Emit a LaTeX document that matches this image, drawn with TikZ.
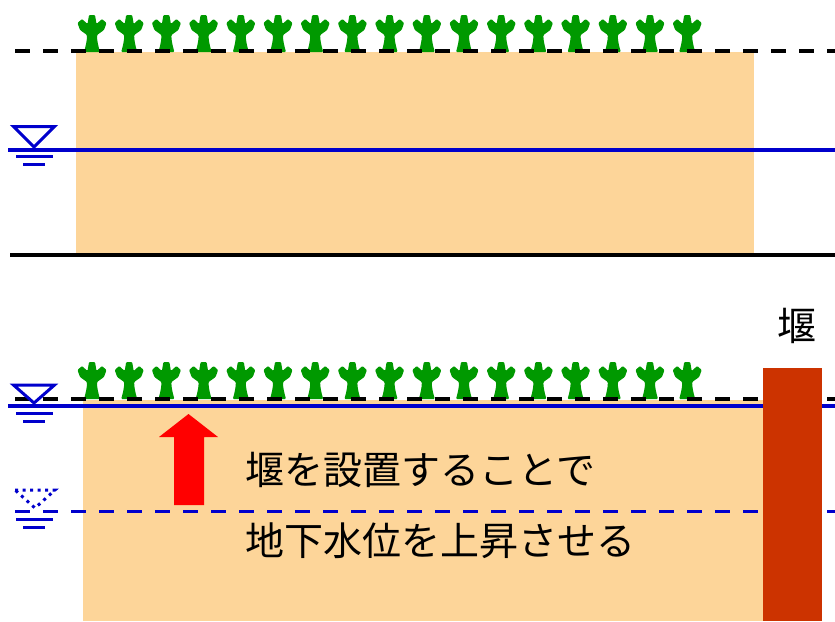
\documentclass[tikz,border=0pt]{standalone}
\usepackage{fontspec}
\newfontfamily\jpfont{Noto Sans CJK JP}
\definecolor{soil}{RGB}{253,213,153}
\definecolor{leaf}{RGB}{0,153,0}
\definecolor{wblue}{RGB}{0,0,204}
\definecolor{weir}{RGB}{204,51,0}

\tikzset{
  leek/.pic={
    \fill[leaf, rounded corners=1pt] (-8,0) .. controls (-6,-7) and (-5,-12) .. (-5,-17)
      -- (-12,-22) -- (-14.5,-29) -- (-10,-33) -- (-4.5,-28) -- (-3,-37) -- (3,-37)
      -- (4.5,-28) -- (10,-33) -- (14.5,-29) -- (12,-22) -- (5,-17)
      .. controls (5,-12) and (6,-7) .. (8,0) -- cycle;
  }
}

\begin{document}
\begin{tikzpicture}[x=1pt, y=-1pt,
    surface/.style={black, line width=3.5pt, dash pattern=on 15pt off 13pt},
    gwl/.style={wblue, line width=3.5pt},
    gauge/.style={wblue, line width=3pt},
    msg/.style={font=\jpfont\fontsize{39}{44}\selectfont, inner sep=0pt}]

\useasboundingbox (0,0) rectangle (835,621);

% before: field with low water table
\fill[soil] (76,52) rectangle (754,254);
\foreach \i in {0,...,16}
    \pic at ({92+37.2*\i},52) {leek};
\draw[surface] (15,51) -- (835,51);
\draw[gwl] (8,150) -- (835,150);
\draw[gauge, line join=miter] (13.5,126.5) -- (54.5,126.5) -- (34,147) -- cycle;
\draw[gauge] (16,156.5) -- (53,156.5) (23,164) -- (45,164);
\draw[black, line width=4pt] (10,255) -- (835,255);

% after: weir raises the water table
\fill[soil] (83,400) rectangle (763,621);
\foreach \i in {0,...,16}
    \pic at ({92+37.2*\i},399) {leek};
\draw[surface] (15,399) -- (835,399);
\draw[gwl] (8,406) -- (835,406);
\draw[gauge, line join=miter] (13.5,385) -- (54.5,385) -- (34,403) -- cycle;
\draw[gauge] (16,413.5) -- (53,413.5) (23,421.5) -- (45,421.5);

% old level
\draw[gauge, dash pattern=on 15pt off 13pt] (15,511.5) -- (835,511.5);
\draw[wblue, line width=3pt, dash pattern=on 3pt off 4.5pt] (15,490) -- (55,490) -- (35,508) -- cycle;
\draw[gauge] (16,519) -- (53,519) (23,527.5) -- (45,527.5);

\fill[weir] (763,368) rectangle (822,621);
\node[msg] (weirlabel) at (797,326) {堰};

\fill[red] (174,505) -- (174,437) -- (159,437) -- (188.5,414) -- (218,437)
    -- (204,437) -- (204,505) -- cycle;

\node[msg, anchor=west] (line1) at (245,470) {堰を設置することで};
\node[msg, anchor=west] (line2) at (245,541) {地下水位を上昇させる};

\end{tikzpicture}
\end{document}
